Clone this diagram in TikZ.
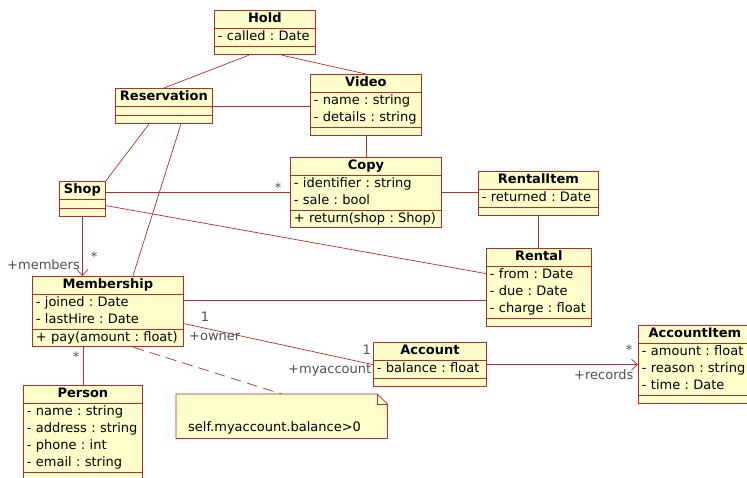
\documentclass[tikz,border=0pt]{standalone}
\usepackage{fontspec}
\setmainfont{DejaVu Sans}
\usetikzlibrary{shapes.multipart,arrows.meta,backgrounds}
\definecolor{umlred}{RGB}{190,40,40}
\definecolor{umlyellow}{RGB}{255,255,204}
\definecolor{umlgrey}{RGB}{80,80,80}
\frenchspacing
\newcommand{\umltitle}[1]{\strut\makebox[\hsize][c]{\textbf{#1}}}
\newcommand{\umlattr}[1]{\strut\mbox{#1}}
\newcommand{\umlgap}{\rule{0pt}{8pt}}

\begin{document}
\begin{tikzpicture}[x=1pt, y=-1pt, >={Straight Barb[length=6pt,width=11pt]},
  every edge/.style={draw=umlred, line width=0.7pt}]
\tikzstyle{umlclass}=[rectangle split, rectangle split parts=3, draw=umlred, fill=umlyellow, line width=0.8pt, inner xsep=3.5pt, inner ysep=0pt, anchor=north west, align=left, font=\fontsize{13}{17}\selectfont]
\tikzstyle{role}=[inner sep=0pt, text=umlgrey, font=\fontsize{13}{17}\selectfont]
\tikzstyle{note}=[anchor=north west, inner xsep=12pt, inner ysep=0pt, text width=187pt, text height=37pt, text depth=7pt, align=left, font=\fontsize{13}{17}\selectfont]
\useasboundingbox (0,0) rectangle (747,478);
\node[umlclass, text width=94pt]   (Hold)    at (214,10)  {\umltitle{Hold}\nodepart{second}\umlattr{- called : Date}\nodepart{third}\umlgap};
\node[umlclass, text width=104pt]  (Video)   at (310,74)  {\umltitle{Video}\nodepart{second}\umlattr{- name : string}\\\umlattr{- details : string}\nodepart{third}\umlgap};
\node[umlclass, text width=90pt]   (Res)     at (115,88)  {\umltitle{Reservation}\nodepart{second}\umlgap\nodepart{third}\umlgap};
\node[umlclass, text width=144pt]  (Copy)    at (290,157) {\umltitle{Copy}\nodepart{second}\umlattr{- identifier : string}\\\umlattr{- sale : bool}\nodepart{third}\umlattr{+ return(shop : Shop)}};
\node[umlclass, text width=113pt]  (Item)    at (478,171) {\umltitle{RentalItem}\nodepart{second}\umlattr{- returned : Date}\nodepart{third}\umlgap};
\node[umlclass, text width=39pt]   (Shop)    at (59,181)  {\umltitle{Shop}\nodepart{second}\umlgap\nodepart{third}\umlgap};
\node[umlclass, text width=98pt]   (Rental)  at (486,248) {\umltitle{Rental}\nodepart{second}\umlattr{- from : Date}\\\umlattr{- due : Date}\\\umlattr{- charge : float}\nodepart{third}\umlgap};
\node[umlclass, text width=144pt]  (Memb)    at (32,276)  {\umltitle{Membership}\nodepart{second}\umlattr{- joined : Date}\\\umlattr{- lastHire : Date}\nodepart{third}\umlattr{+ pay(amount : float)}};
\node[umlclass, text width=112pt]  (Person)  at (23,385)  {\umltitle{Person}\nodepart{second}\umlattr{- name : string}\\\umlattr{- address : string}\\\umlattr{- phone : int}\\\umlattr{- email : string}\nodepart{third}\umlgap};
\node[umlclass, text width=106pt]  (Account) at (373,342) {\umltitle{Account}\nodepart{second}\umlattr{- balance : float}\nodepart{third}\umlgap};
\node[umlclass, text width=106pt]  (AItem)   at (638,325) {\umltitle{AccountItem}\nodepart{second}\umlattr{- amount : float}\\\umlattr{- reason : string}\\\umlattr{- time : Date}\nodepart{third}\umlgap};
\node[note] (Note) at (176,394) {self.myaccount.balance>0};
\begin{scope}[on background layer]
\filldraw[fill=umlyellow, draw=umlred, line width=0.8pt] (Note.north west) -- ([xshift=-10pt]Note.north east) -- ([yshift=-10pt]Note.north east) -- (Note.south east) -- (Note.south west) -- cycle;
\draw[umlred, line width=0.8pt] ([xshift=-10pt]Note.north east) -- ([xshift=-10pt,yshift=-10pt]Note.north east) -- ([yshift=-10pt]Note.north east);
\end{scope}
\path
([xshift=-16pt]Hold.south)    edge (Res.north)
([xshift=17pt]Hold.south)     edge (Video.north)
(Res.east)                    edge (Res.east -| Video.west)
(Video.south)                 edge (Copy.north)
%
([xshift=-15pt]Res.south)     edge (Shop.north east)
([xshift=17pt]Res.south)      edge ([xshift=25pt]Memb.north)
%
(Shop.east |- Copy.west)      edge (Copy.west)
(Copy.east)                   edge (Copy.east -| Item.west)
(Item.south)                  edge (Item.south |- Rental.north)
([yshift=-6.5pt]Shop.east)    edge ([yshift=14pt]Rental.west)
(Shop.south)                  edge[->] (Shop.south |- Memb.north)
%
([yshift=11.5pt]Memb.east)    edge ([yshift=11.5pt]Memb.east -| Rental.west)
([yshift=-12pt]Memb.east)     edge (Account.west)
(Person.north |- Memb.south)  edge (Person.north)
([xshift=25.5pt]Memb.south)   edge[dash pattern=on 11pt off 6pt] (Note.north)
%
(Account.east)                edge[->] (Account.east -| AItem.west);
%
\node[role, anchor=base west] (members) at (7,269.5)    {+members};
\node[role, anchor=base]      (mMult)   at (94,262)     {*};
\node[role, anchor=base]      (cMult)   at (278,192.5)  {*};
\node[role, anchor=base]      (oMult)   at (205,321.3)  {1};
\node[role, anchor=base west] (owner)   at (189,340.5)  {+owner};
\node[role, anchor=base]      (aMult)   at (366.7,354.6) {1};
\node[role, anchor=base west] (myacc)   at (288,373.5)  {+myaccount};
\node[role, anchor=base]      (pMult)   at (76,361.5)   {*};
\node[role, anchor=base]      (rMult)   at (629,355)    {*};
\node[role, anchor=base west] (records) at (574,379)    {+records};
\end{tikzpicture}
\end{document}
